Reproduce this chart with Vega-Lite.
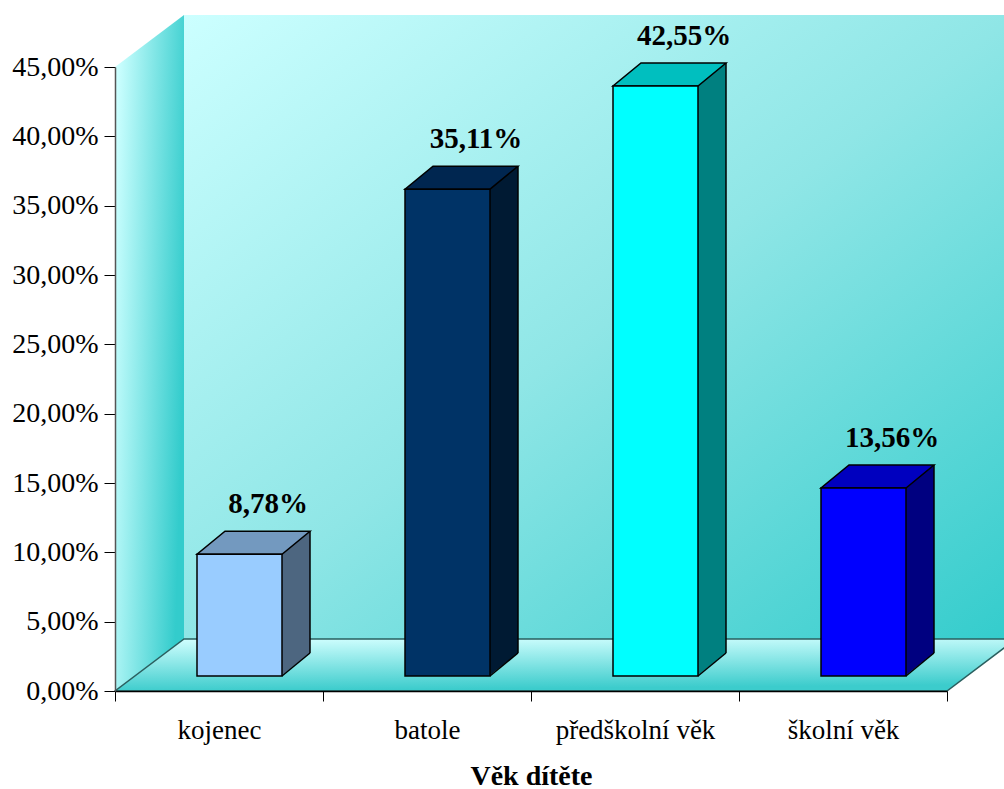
{
  "$schema": "https://vega.github.io/schema/vega-lite/v6.json",
  "width": 832,
  "height": 624,
  "autosize": {"type": "none"},
  "padding": {"left": 115, "top": 67, "right": 57, "bottom": 98},
  "background": "#ffffff",
  "config": {
    "view": {"stroke": null},
    "locale": {"number": {"decimal": ",", "thousands": " ", "grouping": [3], "currency": ["", " Kč"]}},
    "font": "Liberation Serif"
  },
  "data": {"values": [
    {"cat": "kojenec", "p": 0.0878},
    {"cat": "batole", "p": 0.3511},
    {"cat": "předškolní věk", "p": 0.4255},
    {"cat": "školní věk", "p": 0.1356}
  ]},
  "resolve": {"scale": {"fill": "independent"}},
  "layer": [
    {
      "data": {"values": [{}]},
      "mark": {"type": "rect", "xOffset": 69, "x2Offset": 69, "yOffset": -52, "y2Offset": -52,
        "fill": {"gradient": "linear", "x1": 0, "y1": 0, "x2": 1, "y2": 1,
          "stops": [{"offset": 0, "color": "#ccffff"}, {"offset": 0.5, "color": "#8fe6e6"}, {"offset": 1, "color": "#33cccc"}]}},
      "encoding": {
        "x": {"datum": "kojenec", "type": "nominal", "bandPosition": 0},
        "x2": {"datum": "školní věk", "bandPosition": 1},
        "y": {"datum": 0, "type": "quantitative"},
        "y2": {"datum": 0.45}
      }
    },
    {
      "data": {"values": [{}]},
      "mark": {"type": "point", "shape": "M0,0 L0,-624 L69,-676 L69,-52 Z", "size": 4, "filled": true, "opacity": 1, "strokeWidth": 0,
        "fill": {"gradient": "linear", "x1": 0, "y1": 0.2, "x2": 1, "y2": 0.5,
          "stops": [{"offset": 0, "color": "#ccffff"}, {"offset": 1, "color": "#33cccc"}]}},
      "encoding": {
        "x": {"datum": "kojenec", "type": "nominal", "bandPosition": 0},
        "y": {"datum": 0, "type": "quantitative"}
      }
    },
    {
      "data": {"values": [{}]},
      "mark": {"type": "point", "shape": "M0,0 L832,0 L901,-52 L69,-52 Z", "size": 4, "filled": true, "opacity": 1,
        "stroke": "#2a5f5f", "strokeWidth": 1.5,
        "fill": {"gradient": "linear", "x1": 0, "y1": 0, "x2": 0.15, "y2": 1,
          "stops": [{"offset": 0, "color": "#d2ffff"}, {"offset": 1, "color": "#3ccccc"}]}},
      "encoding": {
        "x": {"datum": "kojenec", "type": "nominal", "bandPosition": 0},
        "y": {"datum": 0, "type": "quantitative"}
      }
    },
    {
      "mark": {"type": "bar", "width": 28, "xOffset": 77, "yOffset": -38, "y2Offset": -38, "strokeWidth": 0},
      "encoding": {
        "x": {"field": "cat", "type": "nominal", "sort": null,
          "scale": {"domain": ["kojenec", "batole", "předškolní věk", "školní věk"], "paddingInner": 0, "paddingOuter": 0},
          "axis": {"title": "Věk dítěte", "labelAngle": 0, "labelAlign": "center", "labelBaseline": "top", "labelFontSize": 27, "labelColor": "#000000", "labelFont": "Liberation Serif",
            "labelPadding": 16, "tickBand": "extent", "tickSize": 10, "tickColor": "#000000", "tickWidth": 1,
            "domainColor": "#000000", "domainWidth": 1.5, "titleFont": "Liberation Serif", "titleFontSize": 28,
            "titleFontWeight": "bold", "titleColor": "#000000", "titlePadding": 19, "zindex": 1}},
        "y": {"field": "p", "type": "quantitative",
          "scale": {"domain": [0, 0.45], "nice": false, "zero": true},
          "axis": {"title": null, "values": [0, 0.05, 0.1, 0.15, 0.2, 0.25, 0.3, 0.35, 0.4, 0.45], "format": ".2%",
            "labelFontSize": 28, "labelColor": "#000000", "labelFont": "Liberation Serif", "labelPadding": 6,
            "tickSize": 11, "tickColor": "#000000", "domainColor": "#555555", "domainWidth": 1.5, "grid": false, "zindex": 1}},
        "y2": {"datum": 0},
        "fill": {"field": "cat", "type": "nominal", "legend": null,
          "scale": {"domain": ["kojenec", "batole", "předškolní věk", "školní věk"], "range": ["#4d6680", "#001a33", "#008080", "#000080"]}}
      }
    },
    {
      "mark": {"type": "point", "shape": "M-1,0 L28,-23 L28,-24 L-1,-24 Z", "size": 4, "filled": true, "opacity": 1, "strokeWidth": 0, "xOffset": 167, "yOffset": -15},
      "encoding": {
        "x": {"field": "cat", "type": "nominal", "bandPosition": 0},
        "y": {"datum": 0, "type": "quantitative"},
        "fill": {"field": "cat", "type": "nominal", "legend": null,
          "scale": {"domain": ["kojenec", "batole", "předškolní věk", "školní věk"], "range": ["#4d6680", "#001a33", "#008080", "#000080"]}}
      }
    },
    {
      "mark": {"type": "point", "shape": "M0,0 L28,-23", "size": 4, "filled": false, "opacity": 1, "stroke": "#000000", "strokeWidth": 1.5, "xOffset": 167, "yOffset": -15},
      "encoding": {
        "x": {"field": "cat", "type": "nominal", "bandPosition": 0},
        "y": {"datum": 0, "type": "quantitative"}
      }
    },
    {
      "mark": {"type": "rule", "xOffset": 91, "yOffset": -38, "y2Offset": -38, "stroke": "#000000", "strokeWidth": 1.5},
      "encoding": {
        "x": {"field": "cat", "type": "nominal"},
        "y": {"field": "p", "type": "quantitative"},
        "y2": {"datum": 0}
      }
    },
    {
      "mark": {"type": "point", "shape": "M0,0 L85,0 L113,-23 L28,-23 Z", "size": 4, "filled": true, "opacity": 1, "stroke": "#000000", "strokeWidth": 1.5, "xOffset": 82, "yOffset": -15},
      "encoding": {
        "x": {"field": "cat", "type": "nominal", "bandPosition": 0},
        "y": {"field": "p", "type": "quantitative"},
        "fill": {"field": "cat", "type": "nominal", "legend": null,
          "scale": {"domain": ["kojenec", "batole", "předškolní věk", "školní věk"], "range": ["#7399bf", "#002650", "#00bfbf", "#0000bf"]}}
      }
    },
    {
      "mark": {"type": "bar", "width": 85, "xOffset": 20.5, "yOffset": -15, "y2Offset": -15, "stroke": "#000000", "strokeWidth": 1.5},
      "encoding": {
        "x": {"field": "cat", "type": "nominal"},
        "y": {"field": "p", "type": "quantitative"},
        "y2": {"datum": 0},
        "fill": {"field": "cat", "type": "nominal", "legend": null,
          "scale": {"domain": ["kojenec", "batole", "předškolní věk", "školní věk"], "range": ["#99ccff", "#003366", "#00ffff", "#0000ff"]}}
      }
    },
    {
      "mark": {"type": "text", "xOffset": 49, "yOffset": -56, "baseline": "alphabetic", "align": "center", "font": "Liberation Serif", "fontSize": 29, "fontWeight": "bold", "color": "#000000"},
      "encoding": {
        "x": {"field": "cat", "type": "nominal"},
        "y": {"field": "p", "type": "quantitative"},
        "text": {"field": "p", "type": "quantitative", "format": ".2%"}
      }
    }
  ]
}
